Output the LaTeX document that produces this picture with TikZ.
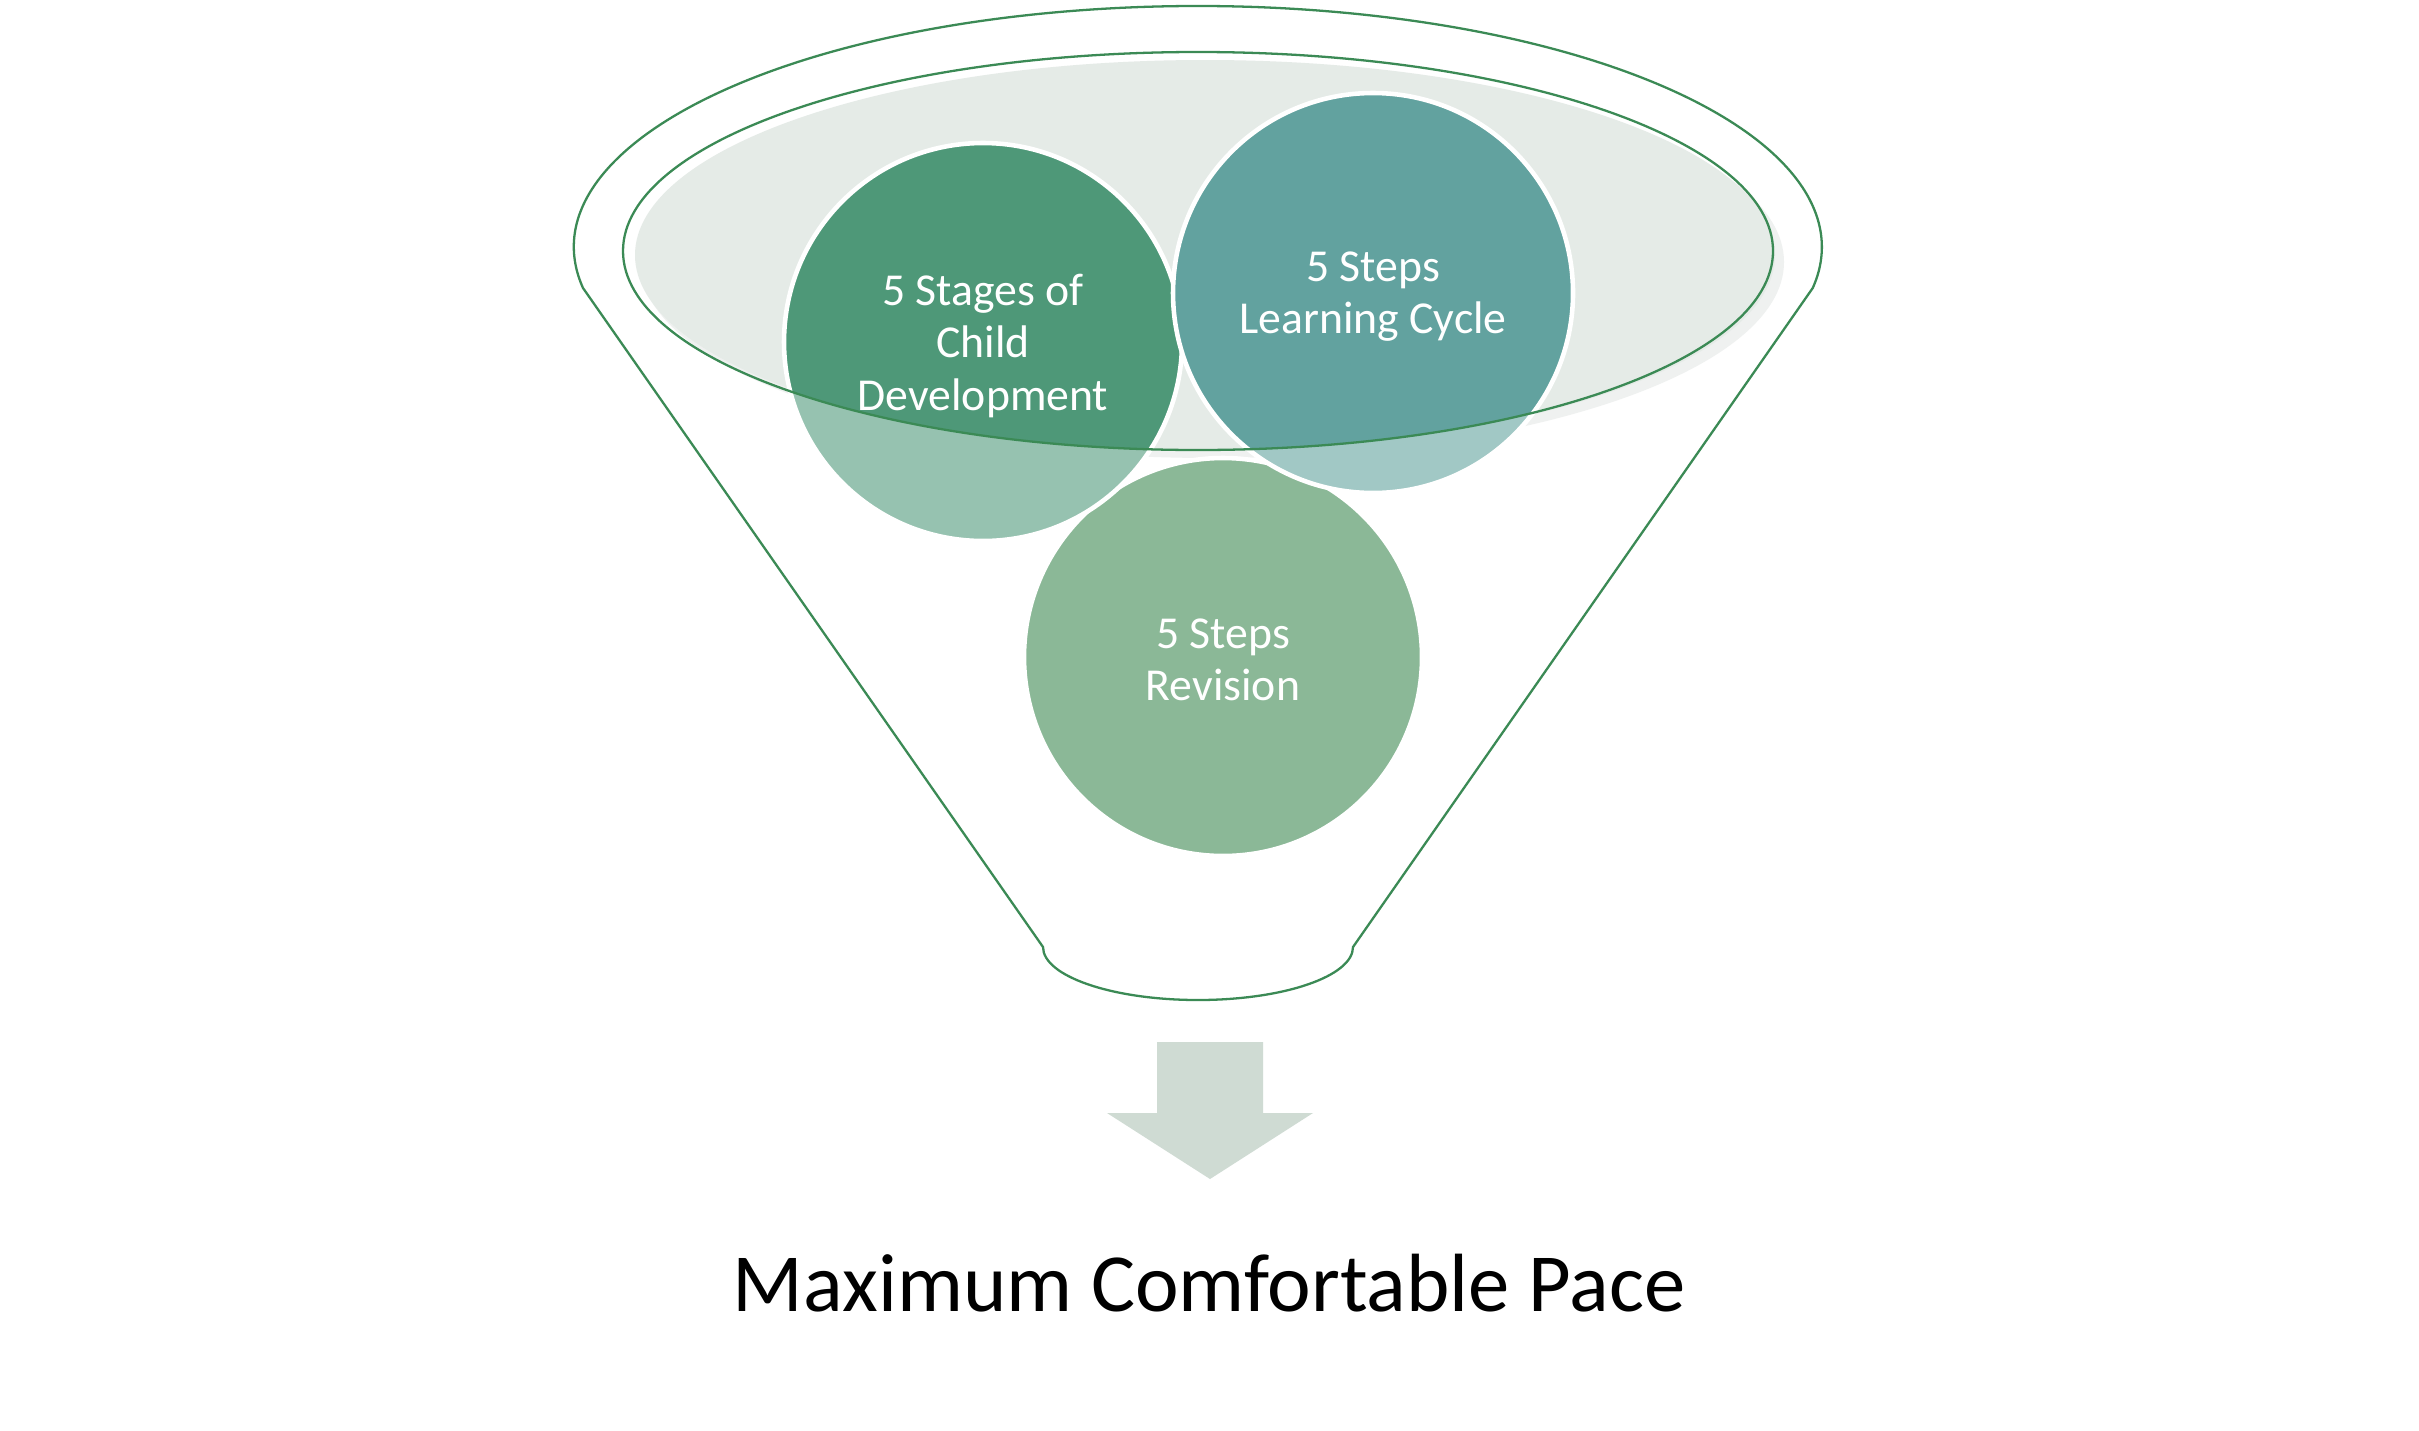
\documentclass[tikz,border=0pt]{standalone}
\usepackage{fontspec}
\setmainfont{Carlito}
\definecolor{outl}{HTML}{3B8A55}
\definecolor{topfill}{HTML}{E5EBE7}
\definecolor{topshadow}{HTML}{EFF1F0}
\definecolor{darkA}{HTML}{4E9878}
\definecolor{lightA}{HTML}{96C2B0}
\definecolor{darkB}{HTML}{62A29F}
\definecolor{lightB}{HTML}{A1C8C5}
\definecolor{revc}{HTML}{8BB897}
\definecolor{arrowc}{HTML}{CFDBD3}
\tikzset{
  funnelline/.style={draw=outl, line width=0.65pt},
  ringline/.style={draw=white, line width=1.3pt},
  circtext/.style={text=white, align=center, inner sep=0pt, font=\fontsize{13}{14.8}\selectfont},
  titletext/.style={text=black, inner sep=0pt, anchor=base, font=\fontsize{23.5}{28}\selectfont}
}
\begin{document}
\begin{tikzpicture}[x=0.01cm, y=-0.01cm]
\useasboundingbox (0,0) rectangle (2419,1430);
\fill[white] (0,0) rectangle (2419,1430);
% named points
\coordinate (topc) at (1198,251);
\coordinate (k1) at (983,342);
\coordinate (k2) at (1373,293);
\coordinate (k3) at (1223,657);
% top ellipse fill with faint shadow
\fill[topshadow] (1212,262) ellipse [x radius=572, y radius=196];
\fill[topfill] (1205,255) ellipse [x radius=570, y radius=195];
% outer funnel outline
\draw[funnelline] (583,288) arc [start angle=170.2, end angle=369.8, x radius=624, y radius=241]
  -- (1353,947) arc [start angle=0, end angle=180, x radius=155, y radius=53]
  -- cycle;
% revision circle (behind)
\fill[revc] (k3) circle [radius=199];
\draw[ringline] (k3) circle [radius=199];
% circle A
\fill[lightA] (k1) circle [radius=199];
\begin{scope}
  \clip (topc) ellipse [x radius=575, y radius=199];
  \fill[darkA] (k1) circle [radius=199];
\end{scope}
\draw[ringline] (k1) circle [radius=199];
% circle B
\fill[lightB] (k2) circle [radius=200];
\begin{scope}
  \clip (topc) ellipse [x radius=575, y radius=199];
  \fill[darkB] (k2) circle [radius=200];
\end{scope}
\draw[ringline] (k2) circle [radius=200];
% inner outline ellipse
\draw[funnelline] (topc) ellipse [x radius=575, y radius=199];
% texts
\node[circtext] (t1) at ([yshift=-0.04cm]k1) {5 Stages of\\Child\\Development};
\node[circtext] (t2) at ([yshift=-0.04cm]k2) {5 Steps\\Learning Cycle};
\node[circtext] (t3) at ([yshift=-0.03cm]k3) {5 Steps\\Revision};
% arrow
\fill[arrowc] (1157,1042) -- (1263,1042) -- (1263,1113) -- (1313,1113) -- (1210,1179) -- (1107,1113) -- (1157,1113) -- cycle;
% title
\node[titletext] (title) at (1209,1311) {Maximum Comfortable Pace};
\end{tikzpicture}
\end{document}
